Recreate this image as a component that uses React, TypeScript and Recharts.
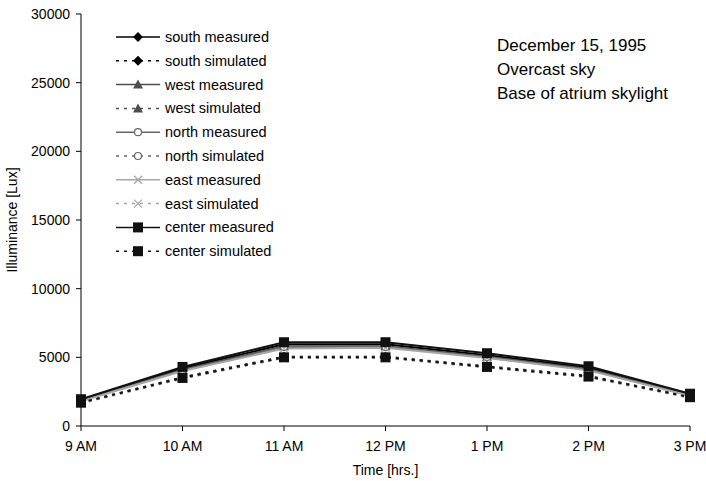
import { LineChart, Line, XAxis, YAxis } from "recharts";

const HOURS = ["9 AM", "10 AM", "11 AM", "12 PM", "1 PM", "2 PM", "3 PM"];

const southMeasured = [1900, 4200, 5950, 5950, 5150, 4250, 2300];
const southSimulated = [1700, 3550, 5050, 5050, 4350, 3650, 2100];
const westMeasured = [1850, 4100, 5800, 5800, 5050, 4150, 2250];
const westSimulated = [1700, 3500, 5000, 5000, 4300, 3600, 2100];
const northMeasured = [1850, 4050, 5750, 5750, 5000, 4100, 2250];
const northSimulated = [1700, 3500, 5000, 5000, 4300, 3600, 2100];
const eastMeasured = [1800, 4000, 5650, 5700, 4950, 4050, 2200];
const eastSimulated = [1650, 3450, 4950, 4950, 4250, 3550, 2050];
const centerMeasured = [1950, 4300, 6100, 6100, 5300, 4350, 2350];
const centerSimulated = [1700, 3500, 5000, 5000, 4300, 3600, 2100];

const Y_TICKS = [0, 5000, 10000, 15000, 20000, 25000, 30000];

type Shape = "diamond" | "triangle" | "circle" | "cross" | "square";

const SERIES = [
  { key: "southM", name: "south measured", values: southMeasured, color: "#000000", dash: undefined, shape: "diamond" as Shape },
  { key: "southS", name: "south simulated", values: southSimulated, color: "#000000", dash: "3 5", shape: "diamond" as Shape },
  { key: "westM", name: "west measured", values: westMeasured, color: "#4d4d4d", dash: undefined, shape: "triangle" as Shape },
  { key: "westS", name: "west simulated", values: westSimulated, color: "#4d4d4d", dash: "3 5", shape: "triangle" as Shape },
  { key: "northM", name: "north measured", values: northMeasured, color: "#666666", dash: undefined, shape: "circle" as Shape },
  { key: "northS", name: "north simulated", values: northSimulated, color: "#666666", dash: "3 5", shape: "circle" as Shape },
  { key: "eastM", name: "east measured", values: eastMeasured, color: "#a6a6a6", dash: undefined, shape: "cross" as Shape },
  { key: "eastS", name: "east simulated", values: eastSimulated, color: "#a6a6a6", dash: "3 5", shape: "cross" as Shape },
  { key: "centerM", name: "center measured", values: centerMeasured, color: "#111111", dash: undefined, shape: "square" as Shape },
  { key: "centerS", name: "center simulated", values: centerSimulated, color: "#111111", dash: "3 5", shape: "square" as Shape },
];

const data = HOURS.map((hour, i) => {
  const row: Record<string, any> = { hour };
  SERIES.forEach((s) => (row[s.key] = s.values[i]));
  return row;
});

const FONT = "'Liberation Sans', Arial, sans-serif";

function Marker({ shape, cx, cy, color }: { shape: Shape; cx: number; cy: number; color: string }) {
  if (cx == null || cy == null) return null;
  switch (shape) {
    case "diamond":
      return <polygon points={`${cx},${cy - 5} ${cx + 5},${cy} ${cx},${cy + 5} ${cx - 5},${cy}`} fill={color} />;
    case "triangle":
      return <polygon points={`${cx},${cy - 5} ${cx + 5},${cy + 4} ${cx - 5},${cy + 4}`} fill={color} />;
    case "circle":
      return <circle cx={cx} cy={cy} r={3.5} fill="#fff" stroke={color} strokeWidth={1.2} />;
    case "cross":
      return (
        <g stroke={color} strokeWidth={1.3}>
          <line x1={cx - 4} y1={cy - 4} x2={cx + 4} y2={cy + 4} />
          <line x1={cx - 4} y1={cy + 4} x2={cx + 4} y2={cy - 4} />
        </g>
      );
    default:
      return <rect x={cx - 5} y={cy - 5} width={10} height={10} fill={color} />;
  }
}

function LegendBox() {
  return (
    <svg width={200} height={250} style={{ position: "absolute", left: 100, top: 25 }}>
      {SERIES.map((s, i) => {
        const y = 12 + i * 23.8;
        return (
          <g key={s.key}>
            <line x1={16} x2={60} y1={y} y2={y} stroke={s.color} strokeWidth={1.5} strokeDasharray={s.dash} />
            <Marker shape={s.shape} cx={38} cy={y} color={s.color} />
            <text x={65} y={y + 5} fontSize={14.5} fontFamily={FONT} fill="#000">
              {s.name}
            </text>
          </g>
        );
      })}
    </svg>
  );
}

export default function App() {
  return (
    <div style={{ position: "absolute", left: 0, top: 0, width: 706, height: 481, background: "#fff" }}>
      <LineChart width={706} height={481} data={data} margin={{ top: 14, right: 16, bottom: 0, left: 0 }}>
        <XAxis
          dataKey="hour"
          stroke="#000"
          tickSize={5}
          tickMargin={10}
          height={55}
          tick={{ fill: "#000", fontSize: 14, fontFamily: FONT }}
          label={{ value: "Time [hrs.]", position: "insideBottom", offset: 6, fill: "#000", fontSize: 14, fontFamily: FONT }}
        />
        <XAxis xAxisId="top" dataKey="hour" orientation="top" height={0} tick={false} tickLine={false} stroke="#808080" />
        <YAxis
          domain={[0, 30000]}
          ticks={Y_TICKS}
          stroke="#000"
          width={81}
          tickSize={5}
          tickMargin={6}
          tick={{ fill: "#000", fontSize: 14, fontFamily: FONT }}
          label={{ value: "Illuminance [Lux]", angle: -90, position: "insideLeft", offset: 12, fill: "#000", fontSize: 14, fontFamily: FONT, style: { textAnchor: "middle" } }}
        />
        <YAxis yAxisId="r" orientation="right" width={0} tick={false} tickLine={false} stroke="#808080" />
        {SERIES.map((s) => (
          <Line
            key={s.key}
            dataKey={s.key}
            name={s.name}
            stroke={s.color}
            strokeWidth={2}
            strokeDasharray={s.dash}
            isAnimationActive={false}
            dot={(p: any) => <Marker key={`${s.key}-${p.index}`} shape={s.shape} cx={p.cx} cy={p.cy} color={s.color} />}
            activeDot={false}
          />
        ))}
      </LineChart>
      <LegendBox />
      <div style={{ position: "absolute", left: 497, top: 34, fontFamily: FONT, fontSize: 17, lineHeight: "24px", color: "#000" }}>
        <div>December 15, 1995</div>
        <div>Overcast sky</div>
        <div>Base of atrium skylight</div>
      </div>
    </div>
  );
}
